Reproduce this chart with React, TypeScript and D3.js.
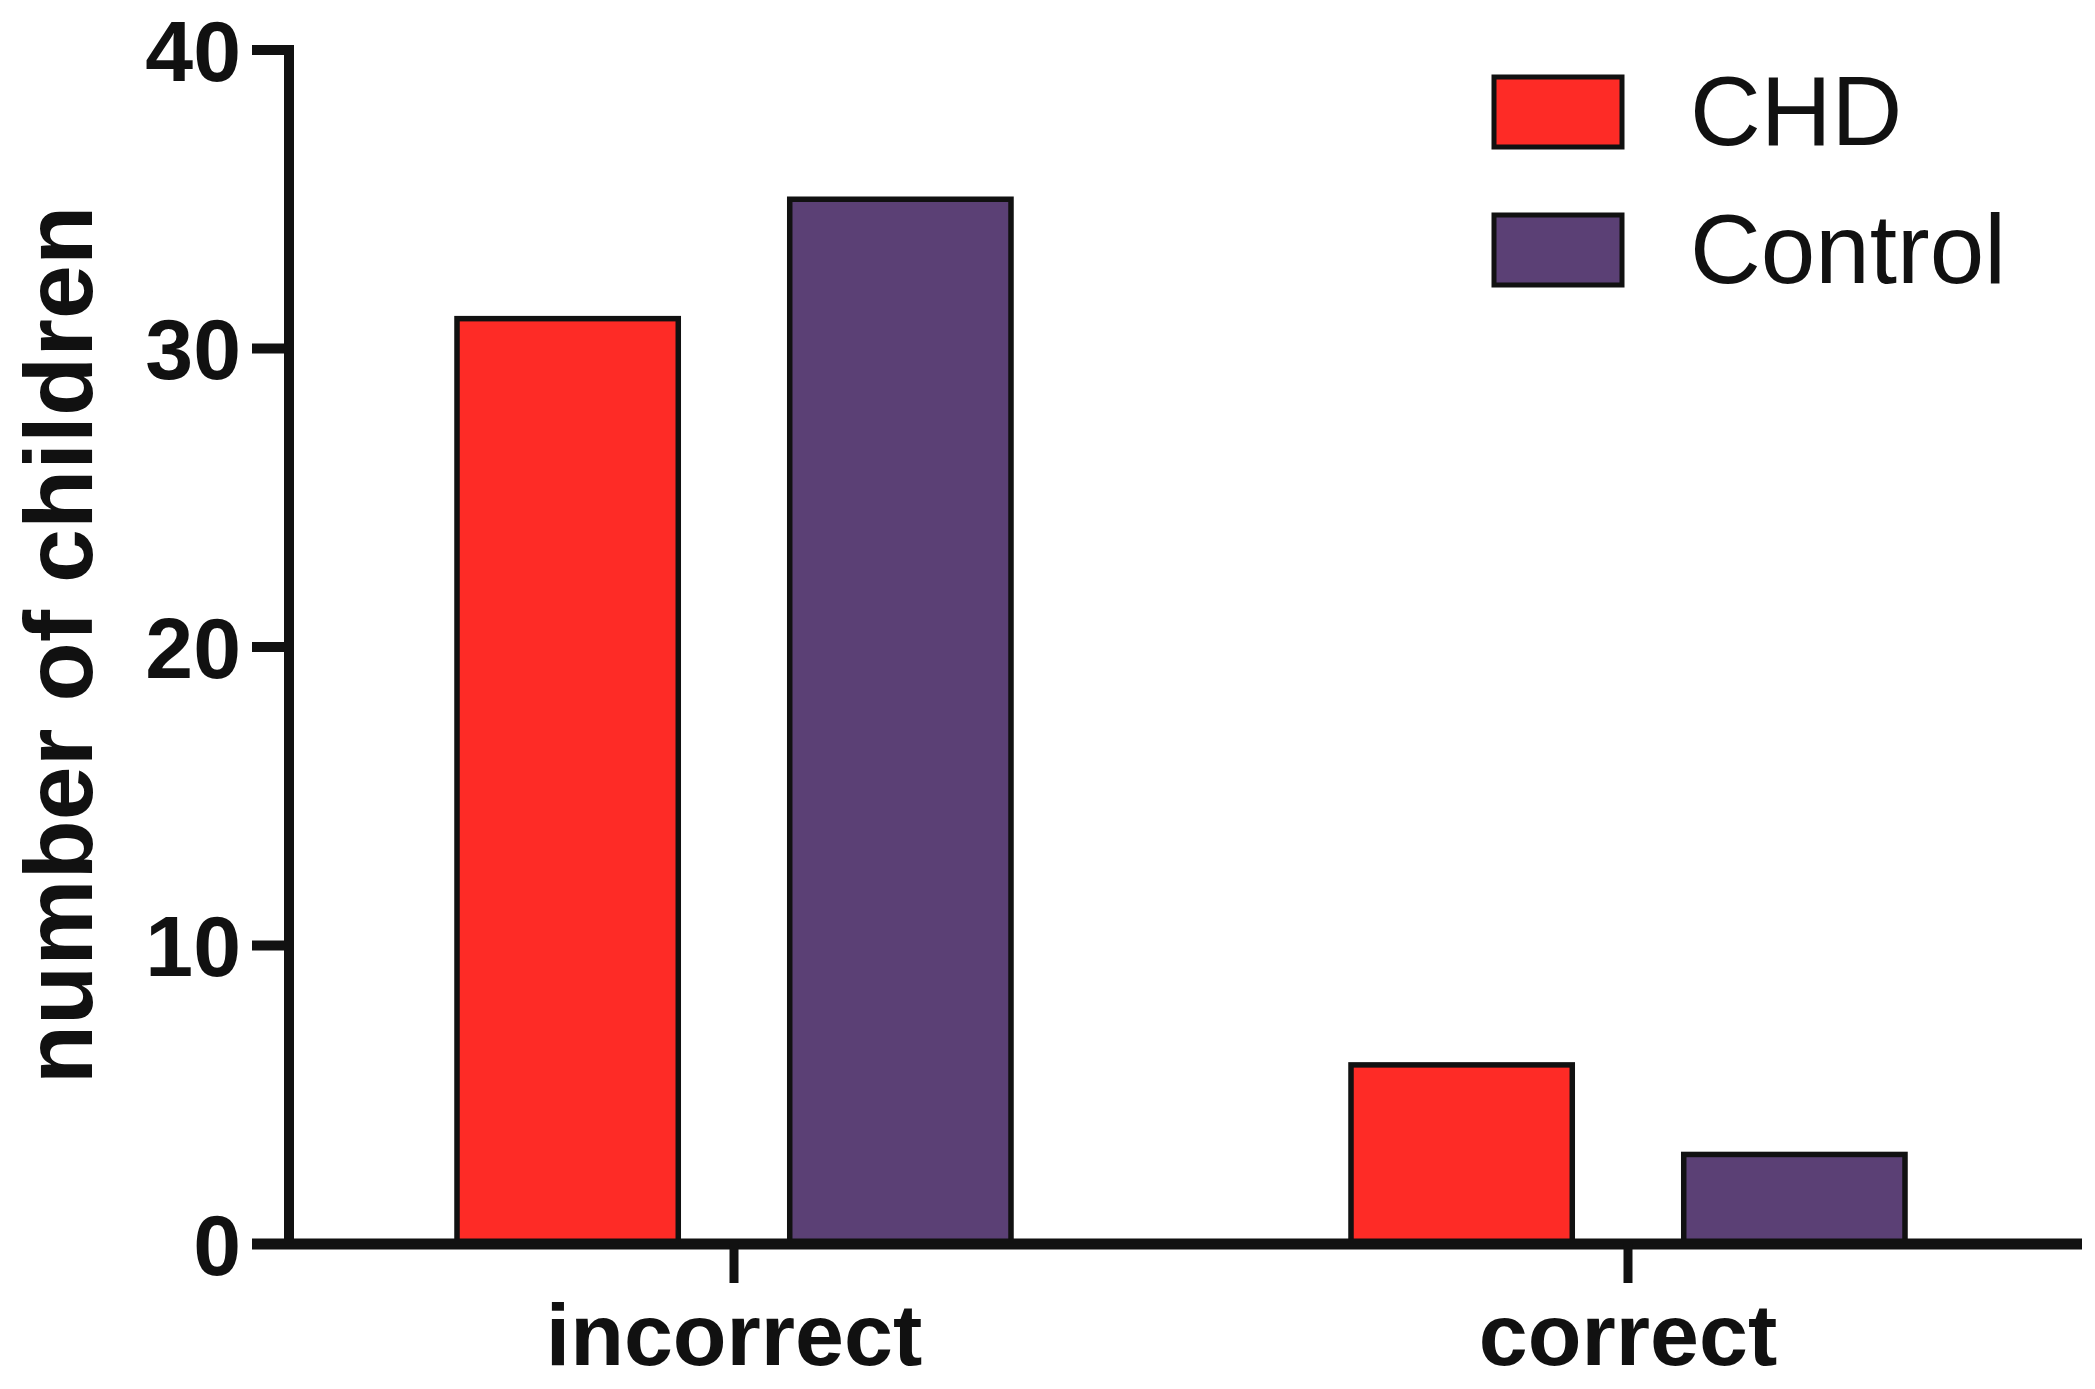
import React, { useEffect, useRef } from 'react';
import * as d3 from 'd3';

const categories = ['incorrect', 'correct'];
const seriesNames = ['CHD', 'Control'];
const chdValues = [31, 6];
const controlValues = [35, 3];
const yTicks = [0, 10, 20, 30, 40];

const colors = { CHD: '#FE2B26', Control: '#5B4075' };

function App() {
  const svgRef = useRef<SVGSVGElement>(null);

  useEffect(() => {
    if (!svgRef.current) return;

    const width = 2095;
    const height = 1389;
    const font = '"Liberation Sans", Arial, sans-serif';

    const svg = d3.select(svgRef.current);
    svg.selectAll('*').remove();

    svg.attr('width', width).attr('height', height).attr('viewBox', `0 0 ${width} ${height}`);

    svg.append('rect').attr('width', width).attr('height', height).attr('fill', '#fff');

    const y = d3.scaleLinear().domain([0, 40]).range([1244, 50]);
    const x = d3.scalePoint<string>().domain(categories).range([287, 2075]).padding(0.5);
    const inner = d3.scaleBand<string>().domain(seriesNames).range([-277, 277]).paddingInner(0.335);

    const rows = categories.map((c, i) => ({
      category: c,
      values: [
        { key: 'CHD', value: chdValues[i] },
        { key: 'Control', value: controlValues[i] }
      ]
    }));

    // bars
    const groups = svg.append('g')
      .selectAll('g')
      .data(rows)
      .join('g')
      .attr('transform', d => `translate(${x(d.category)},0)`);

    groups.selectAll('rect')
      .data(d => d.values)
      .join('rect')
      .attr('x', d => inner(d.key)!)
      .attr('width', inner.bandwidth())
      .attr('y', d => y(d.value))
      .attr('height', d => y(0) - y(d.value))
      .attr('fill', d => colors[d.key as 'CHD' | 'Control'])
      .attr('stroke', '#111')
      .attr('stroke-width', 5.5);

    // y axis
    const axisX = 289;
    const yAxis = svg.append('g');
    yAxis.append('line')
      .attr('x1', axisX).attr('x2', axisX)
      .attr('y1', y(40) - 5).attr('y2', y(0))
      .attr('stroke', '#111').attr('stroke-width', 10);

    yAxis.selectAll('line.tick')
      .data(yTicks)
      .join('line')
      .attr('class', 'tick')
      .attr('x1', 252).attr('x2', axisX)
      .attr('y1', d => y(d)).attr('y2', d => y(d))
      .attr('stroke', '#111').attr('stroke-width', 10);

    yAxis.selectAll('text')
      .data(yTicks)
      .join('text')
      .attr('x', 241)
      .attr('y', d => y(d))
      .attr('dy', '0.36em')
      .attr('text-anchor', 'end')
      .attr('font-family', font)
      .attr('font-weight', 'bold')
      .attr('font-size', 86)
      .attr('fill', '#111')
      .text(d => d);

    // x axis
    const xAxis = svg.append('g');
    xAxis.append('line')
      .attr('x1', 252).attr('x2', 2082)
      .attr('y1', y(0)).attr('y2', y(0))
      .attr('stroke', '#111').attr('stroke-width', 11);

    xAxis.selectAll('line.tick')
      .data(categories)
      .join('line')
      .attr('class', 'tick')
      .attr('x1', d => x(d)!).attr('x2', d => x(d)!)
      .attr('y1', y(0)).attr('y2', 1283)
      .attr('stroke', '#111').attr('stroke-width', 9);

    xAxis.selectAll('text')
      .data(categories)
      .join('text')
      .attr('x', d => x(d)!)
      .attr('y', 1365)
      .attr('text-anchor', 'middle')
      .attr('font-family', font)
      .attr('font-weight', 'bold')
      .attr('font-size', 88)
      .attr('fill', '#111')
      .text(d => d);

    // y axis title
    svg.append('text')
      .attr('transform', 'translate(92,645) rotate(-90)')
      .attr('text-anchor', 'middle')
      .attr('font-family', font)
      .attr('font-weight', 'bold')
      .attr('font-size', 97)
      .attr('fill', '#111')
      .text('number of children');

    // legend
    const legend = svg.append('g');
    const legendY = d3.scalePoint<string>().domain(seriesNames).range([112, 250]);
    const items = legend.selectAll('g')
      .data(seriesNames)
      .join('g')
      .attr('transform', d => `translate(1494,${legendY(d)})`);

    items.append('rect')
      .attr('x', 0).attr('y', -35)
      .attr('width', 128).attr('height', 70)
      .attr('fill', d => colors[d as 'CHD' | 'Control'])
      .attr('stroke', '#111')
      .attr('stroke-width', 5);

    items.append('text')
      .attr('x', 196)
      .attr('y', 33)
      .attr('font-family', font)
      .attr('font-size', 98)
      .attr('fill', '#111')
      .text(d => d);
  }, []);

  return (
    <div style={{ position: 'absolute', left: 0, top: 0 }}>
      <svg ref={svgRef} style={{ display: 'block' }}></svg>
    </div>
  );
}

export default App;
